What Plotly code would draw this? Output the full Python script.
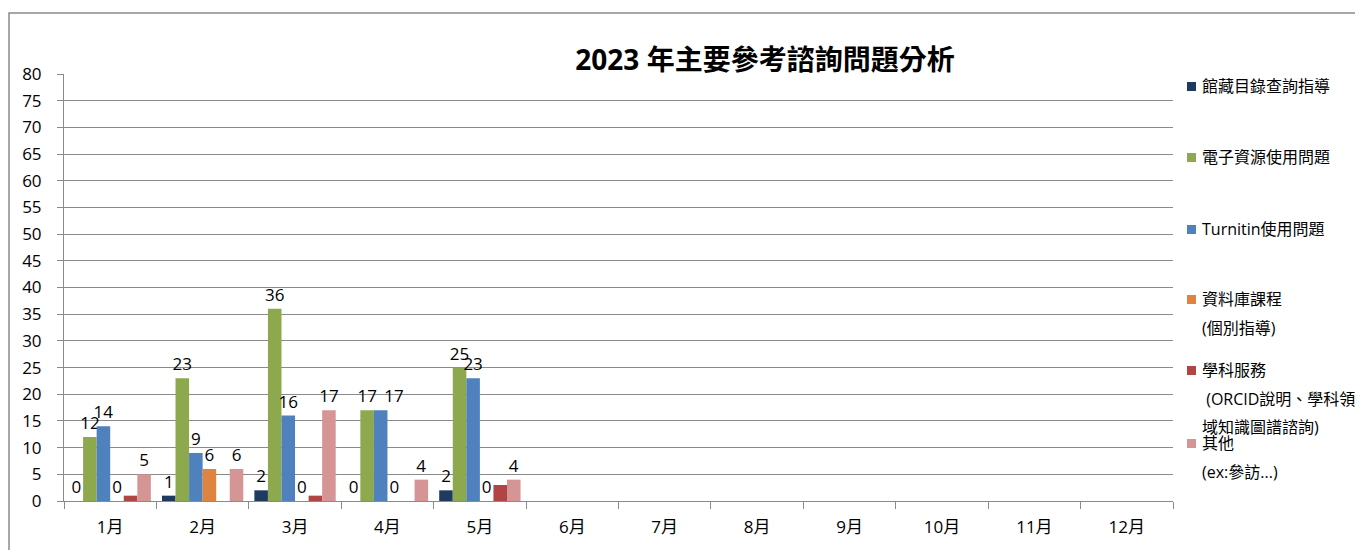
import plotly.graph_objects as go

months = ["1月", "2月", "3月", "4月", "5月", "6月", "7月", "8月", "9月", "10月", "11月", "12月"]
series_names = ["館藏目錄查詢指導", "電子資源使用問題", "Turnitin使用問題",
                "資料庫課程(個別指導)", "學科服務(ORCID說明、學科領域知識圖譜諮詢)", "其他(ex:參訪...)"]
legend_lines = [["館藏目錄查詢指導"], ["電子資源使用問題"], ["Turnitin使用問題"],
                ["資料庫課程", "(個別指導)"], ["學科服務", " (ORCID說明、學科領", "域知識圖譜諮詢)"],
                ["其他", "(ex:參訪...)"]]
catalog = [0, 1, 2, 0, 2]
eresource = [12, 23, 36, 17, 25]
turnitin = [14, 9, 16, 17, 23]
db_course = [0, 6, 0, 0, 0]
subject = [1, 0, 1, 0, 3]
other = [5, 6, 17, 4, 4]
values = [catalog, eresource, turnitin, db_course, subject, other]
show_labels = [True, True, True, True, False, True]
colors = ["#1F3A60", "#8EA84E", "#4F81BD", "#DE8340", "#AF4545", "#D69595"]
# labels nudged right (series index, point index) -> number of padding spaces
label_pad = {(2, 3): 6}

OFF = 8  # page body margin
W, H = 1363 - OFF, 550 - OFF
L, R, T, B = 64 - OFF, 1173 - OFF, 74 - OFF, 501 - OFF
FONT = "Open Sans, Noto Sans CJK TC, sans-serif"

fig = go.Figure()
for si, (name, vals, col, lab) in enumerate(zip(series_names, values, colors, show_labels)):
    texts = None
    if lab:
        texts = ["\u00a0" * label_pad.get((si, pi), 0) + str(v) for pi, v in enumerate(vals)]
    fig.add_trace(go.Bar(
        x=months[:len(vals)], y=vals, name=name, marker_color=col,
        marker_line_width=0,
        text=texts,
        textposition="outside" if lab else "none",
        constraintext="none",
        textfont=dict(size=17, color="black", family=FONT),
        cliponaxis=False,
    ))

def px_x(px):
    return (px - OFF - L) / (R - L)

def px_y(py):
    return (B - (py - OFF)) / (B - T)

shapes = [dict(type="rect", xref="paper", yref="paper",
               x0=px_x(9), x1=px_x(1400), y0=px_y(13), y1=px_y(600),
               line=dict(color="#8a8a8a", width=1.5), fillcolor="rgba(0,0,0,0)", layer="below")]
annotations = []
item_y = [86, 157, 229, 299, 370, 443]
for i, (lines, col) in enumerate(zip(legend_lines, colors)):
    y0 = item_y[i]
    shapes.append(dict(type="rect", xref="paper", yref="paper",
                       x0=px_x(1187), x1=px_x(1196), y0=px_y(y0 - 4), y1=px_y(y0 + 5),
                       fillcolor=col, line=dict(width=0)))
    for j, t in enumerate(lines):
        annotations.append(dict(xref="paper", yref="paper", x=px_x(1200), y=px_y(y0 + 28.5 * j),
                                text=t, showarrow=False, xanchor="left", yanchor="middle",
                                font=dict(size=16, color="black", family=FONT)))

fig.update_layout(
    width=W, height=H, autosize=False,
    margin=dict(l=L, r=W - R, t=T, b=H - B, pad=0),
    paper_bgcolor="white", plot_bgcolor="white",
    barmode="group", bargap=0.12, bargroupgap=0,
    showlegend=False,
    title=dict(text="<b>2023 年主要參考諮詢問題分析</b>", x=(765 - OFF) / W, xanchor="center",
               y=1 - (60 - OFF) / H, yanchor="middle",
               font=dict(size=28, color="black", family=FONT)),
    font=dict(family=FONT, color="black"),
    shapes=shapes, annotations=annotations,
)
fig.update_yaxes(range=[0, 80], dtick=5, showgrid=True, gridcolor="#8a8a8a", gridwidth=1,
                 showline=True, linecolor="#8a8a8a", ticks="outside", ticklen=6,
                 tickcolor="#8a8a8a", tickfont=dict(size=17, color="black"),
                 ticklabelstandoff=12, zeroline=False)
fig.update_xaxes(categoryorder="array", categoryarray=months, range=[-0.5, 11.5],
                 showline=True, linecolor="#8a8a8a", ticks="outside", ticklen=7,
                 tickcolor="#8a8a8a", tickson="boundaries",
                 ticklabelstandoff=11,
                 tickfont=dict(size=17, color="black"))

fig.write_html("out.html")
